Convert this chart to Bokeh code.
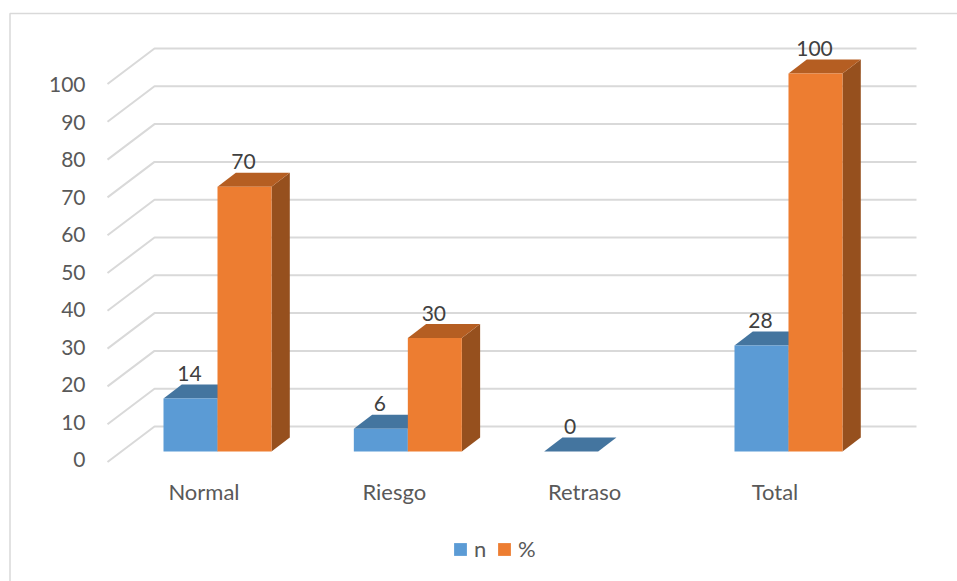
from bokeh.plotting import figure
from bokeh.embed import file_html
from bokeh.resources import INLINE
from bokeh.core.properties import value
from bokeh.models import (BoxAnnotation, ColumnDataSource, FixedTicker, Legend, LegendItem,
                          LinearAxis, Range1d)

categories = ["Normal", "Riesgo", "Retraso", "Total"]
n_values = [14, 6, 0, 28]
pct_values = [70, 30, None, 100]
y_ticks = [0, 10, 20, 30, 40, 50, 60, 70, 80, 90, 100]
series_names = ["n", "%"]

# --- styling / layout (pixels) ---
W, H = 957, 581
PX_X = 190.33       # pixels per category
PX_Y = 3.78         # pixels per value unit
X0_PX = 203.5       # canvas x of category 0 tick
Y0_PX = 461.5       # canvas y of value 0, front of the floor
AXIS_X_PX, AXIS_Y_PX = 93, 470
WALL_DX, WALL_DY = 47 / PX_X, 35.5 / PX_Y
WALL_LEFT = (107 - X0_PX) / PX_X
WALL_RIGHT = (916 - X0_PX) / PX_X
BAR_W = 54 / PX_X
BAR_SHIFT = 13.5 / PX_X
BAR_BASE = 2.8
DX, DY = 18.3 / PX_X, 14 / PX_Y
GRID, BLUE, BLUE_TOP, ORANGE, ORANGE_TOP, ORANGE_SIDE = (
    "#D9D9D9", "#5B9BD5", "#44759F", "#ED7D31", "#B55E22", "#96501E")

p = figure(width=W, height=H, output_backend="svg", toolbar_location=None,
           x_range=Range1d((0 - X0_PX) / PX_X, (W - X0_PX) / PX_X),
           y_range=Range1d((Y0_PX - H) / PX_Y, (Y0_PX - 0) / PX_Y),
           x_axis_location=None, y_axis_location=None,
           min_border=0)
p.outline_line_color = None
p.grid.visible = False
p.background_fill_color = "white"

# tick labels sit on a very slightly tighter scale than the floor/wall grid
p.extra_y_ranges = {"labels": Range1d((459 - H) / 3.75, (459 - 0) / 3.75)}
yax = LinearAxis(y_range_name="labels", ticker=FixedTicker(ticks=y_ticks),
                 fixed_location=(AXIS_X_PX - X0_PX) / PX_X,
                 axis_line_color=None, major_tick_line_color=None, minor_tick_line_color=None,
                 major_label_text_font="Lato", major_label_text_font_size="21px",
                 major_label_text_color="#595959", major_label_standoff=2)
p.add_layout(yax, "left")

xax = LinearAxis(ticker=FixedTicker(ticks=list(range(len(categories)))),
                 fixed_location=(Y0_PX - AXIS_Y_PX) / PX_Y,
                 major_label_overrides={i: c for i, c in enumerate(categories)},
                 axis_line_color=None, major_tick_line_color=None, minor_tick_line_color=None,
                 major_label_text_font="Lato", major_label_text_font_size="22px",
                 major_label_text_color="#595959", major_label_standoff=1)
p.add_layout(xax, "below")

# chart border
p.add_layout(BoxAnnotation(left=9.5, right=W + 10, top=13, bottom=H + 10,
                           left_units="canvas", right_units="canvas",
                           top_units="canvas", bottom_units="canvas",
                           fill_alpha=0, line_color=GRID, line_alpha=1, line_width=1.5))

# wall + floor grid lines
p.multi_line(xs=[[WALL_LEFT, WALL_LEFT + WALL_DX, WALL_RIGHT] for _ in y_ticks],
             ys=[[v, v + WALL_DY, v + WALL_DY] for v in y_ticks],
             line_color=GRID, line_width=2)


def bars(values, offset, front, top, side):
    idx = [i for i, v in enumerate(values) if v is not None]
    lefts = [i + BAR_SHIFT + offset * BAR_W for i in idx]
    rights = [x + BAR_W for x in lefts]
    tops = [values[i] + BAR_BASE for i in idx]
    p.patches(xs=[[r, r + DX, r + DX, r] for r in rights],
              ys=[[BAR_BASE, BAR_BASE + DY, t + DY, t] for t in tops],
              fill_color=side, line_color=None)
    p.patches(xs=[[l, r, r + DX, l + DX] for l, r in zip(lefts, rights)],
              ys=[[t, t, t + DY, t + DY] for t in tops],
              fill_color=top, line_color=None)
    r = p.quad(left=lefts, right=rights, bottom=[BAR_BASE] * len(idx), top=tops,
               fill_color=front, line_color=None)
    labels = ColumnDataSource(dict(
        x=[(l + b) / 2 for l, b in zip(lefts, rights)],
        y=[t + DY for t in tops],
        t=[str(values[i]) for i in idx]))
    return r, labels


r_n, lab_n = bars(n_values, -1, BLUE, BLUE_TOP, BLUE_TOP)
r_p, lab_p = bars(pct_values, 0, ORANGE, ORANGE_TOP, ORANGE_SIDE)

for src in (lab_n, lab_p):
    p.text(x="x", y="y", text="t", source=src, text_align="center", text_baseline="middle",
           y_offset=-11, x_offset=-1, text_font=value("Lato"), text_font_size="21px",
           text_color="#404040")

legend = Legend(items=[LegendItem(label=series_names[0], renderers=[r_n]),
                       LegendItem(label=series_names[1], renderers=[r_p])],
                orientation="horizontal", location=(452, 19),
                border_line_color=None, background_fill_alpha=0,
                glyph_width=16, glyph_height=16, label_standoff=6, spacing=2,
                padding=0, margin=0, label_text_font="Lato", label_text_font_size="22px",
                label_text_color="#595959", label_height=14)
p.add_layout(legend, "center")

open("out.html", "w").write(file_html(p, INLINE))
